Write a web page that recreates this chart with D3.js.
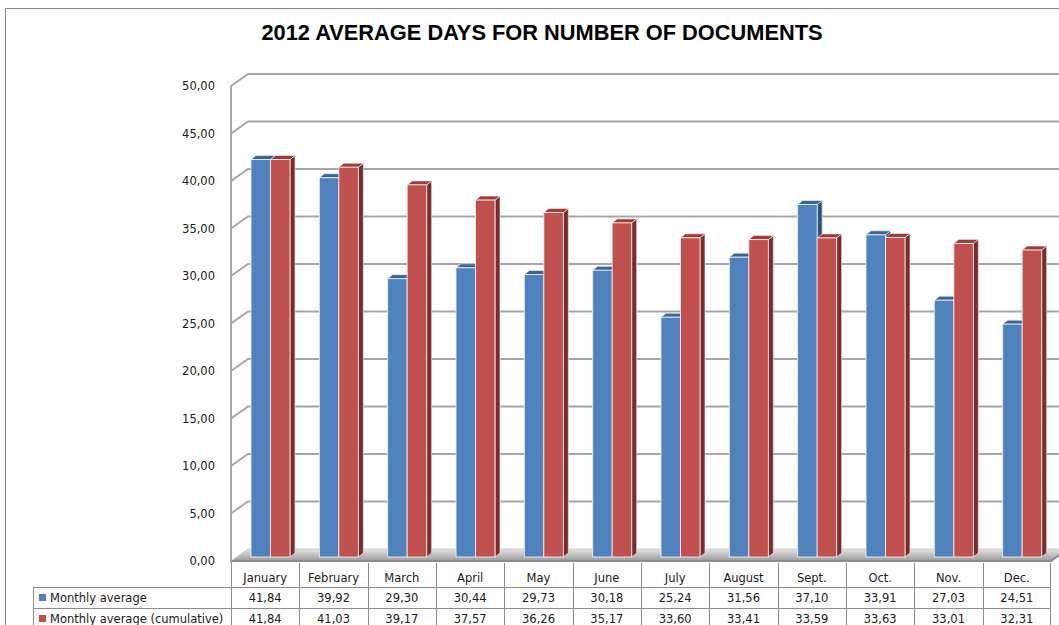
<!DOCTYPE html>
<html>
<head>
<meta charset="utf-8">
<script src="https://cdn.jsdelivr.net/npm/d3@7"></script>
<style>
  body { margin: 0; background: #fff; }
  svg { display: block; }
</style>
</head>
<body>
<script>
const months = ["January", "February", "March", "April", "May", "June", "July", "August", "Sept.", "Oct.", "Nov.", "Dec."];
const monthly = [41.84, 39.92, 29.30, 30.44, 29.73, 30.18, 25.24, 31.56, 37.10, 33.91, 27.03, 24.51];
const cumulative = [41.84, 41.03, 39.17, 37.57, 36.26, 35.17, 33.60, 33.41, 33.59, 33.63, 33.01, 32.31];
const seriesNames = ["Monthly average", "Monthly average (cumulative)"];
const yTicks = [0, 5, 10, 15, 20, 25, 30, 35, 40, 45, 50];

const width = 1059;
const height = 625;

// 3d offsets
const wallDx = 17, wallDy = -12;
const barDx = 5, barDy = -4;

const colors = [
  { front: "#4F81BD", top: "#3A6496", side: "#2E527D" },
  { front: "#C0504D", top: "#9C3B38", side: "#7A2C2A" }
];

const fmt = (v) => v.toFixed(2).replace(".", ",");

const svg = d3.select("body").append("svg")
  .attr("width", width)
  .attr("height", height);

// frame
svg.append("path")
  .attr("d", `M5.5,${height} V8.5 H${width}`)
  .attr("fill", "none")
  .attr("stroke", "#888")
  .attr("stroke-width", 1);

svg.append("text")
  .text("2012 AVERAGE DAYS FOR NUMBER OF DOCUMENTS")
  .attr("x", 542)
  .attr("y", 40)
  .attr("text-anchor", "middle")
  .attr("font-family", "'Liberation Sans', Arial, sans-serif")
  .attr("font-weight", "bold")
  .attr("font-size", "21.8px")
  .attr("fill", "#000");

const x = d3.scaleBand().domain(months).range([231, 1051]);
const yFront = d3.scaleLinear().domain([0, 50]).range([561, 86]);
const yBack = d3.scaleLinear().domain([0, 50]).range([561 + wallDy, 86 + wallDy]);
const yBar = d3.scaleLinear().domain([0, 50]).range([557, 82]);

const defs = svg.append("defs");
const floorGrad = defs.append("linearGradient")
  .attr("id", "floorGrad")
  .attr("x1", 0).attr("y1", 0).attr("x2", 0).attr("y2", 1);
floorGrad.append("stop").attr("offset", "0%").attr("stop-color", "#e4e4e4");
floorGrad.append("stop").attr("offset", "100%").attr("stop-color", "#9a9a9a");

// floor
const x0 = x.range()[0], x1 = x.range()[1];
svg.append("path")
  .attr("d", `M${x0},${yFront(0)} L${x0 + wallDx},${yBack(0)} L${x1 + wallDx},${yBack(0)} L${x1},${yFront(0)} Z`)
  .attr("fill", "url(#floorGrad)")
  .attr("stroke", "#c8c8c8")
  .attr("stroke-width", 0.8);
svg.append("path")
  .attr("d", `M${x0},${yFront(0)} L${x1},${yFront(0)} L${x1 + wallDx},${yBack(0)}`)
  .attr("fill", "none")
  .attr("stroke", "#8c8c8c")
  .attr("stroke-width", 2);

// gridlines (back wall + side wall)
const grid = svg.append("g").attr("fill", "none").attr("stroke", "#a6a6a6").attr("stroke-width", 2);
grid.selectAll("path.grid")
  .data(yTicks.filter((t) => t > 0))
  .enter()
  .append("path")
  .attr("class", "grid")
  .attr("d", (t) => `M${x0},${yFront(t)} L${x0 + wallDx},${yBack(t)} L${width + 5},${yBack(t)}`);

// front axis line
svg.append("line")
  .attr("x1", x0).attr("x2", x0)
  .attr("y1", yFront(50)).attr("y2", yFront(0) + 2)
  .attr("stroke", "#a6a6a6")
  .attr("stroke-width", 2);

// tick labels
svg.append("g")
  .selectAll("text")
  .data(yTicks)
  .enter()
  .append("text")
  .text((t) => fmt(t))
  .attr("x", 215)
  .attr("y", (t) => yFront(t) + 4)
  .attr("text-anchor", "end")
  .attr("font-family", "'DejaVu Sans', Verdana, sans-serif")
  .attr("font-size", "11.5px")
  .attr("fill", "#1a1a1a");

// bars
const barW = 19.5;
const barOffset = 20;
const bars = svg.append("g");
months.forEach((m, i) => {
  [monthly[i], cumulative[i]].forEach((v, s) => {
    const bx = x(m) + barOffset + s * barW;
    const by = yBar(v);
    const by0 = yBar(0);
    const c = colors[s];
    const g = bars.append("g");
    g.append("path")
      .attr("d", `M${bx + barW},${by} L${bx + barW + barDx},${by + barDy} L${bx + barW + barDx},${by0 + barDy} L${bx + barW},${by0} Z`)
      .attr("fill", c.side)
      .attr("stroke", "#e8e8e8")
      .attr("stroke-width", 0.7);
    g.append("path")
      .attr("d", `M${bx},${by} L${bx + barDx},${by + barDy} L${bx + barW + barDx},${by + barDy} L${bx + barW},${by} Z`)
      .attr("fill", c.top)
      .attr("stroke", "#e8e8e8")
      .attr("stroke-width", 0.7);
    g.append("rect")
      .attr("x", bx)
      .attr("y", by)
      .attr("width", barW)
      .attr("height", by0 - by)
      .attr("fill", c.front)
      .attr("stroke", "#ececec")
      .attr("stroke-width", 0.9);
  });
});

// data table
const tableTop = 563;
const rowY = [tableTop, 587, 608, 629];
const table = svg.append("g").attr("stroke", "#8c8c8c").attr("stroke-width", 1);
rowY.slice(1).forEach((ry) => {
  table.append("line")
    .attr("x1", 33).attr("x2", x1)
    .attr("y1", ry + 0.5).attr("y2", ry + 0.5);
});
months.forEach((m) => {
  table.append("line")
    .attr("x1", Math.round(x(m)) + 0.5).attr("x2", Math.round(x(m)) + 0.5)
    .attr("y1", tableTop).attr("y2", height);
});
table.append("line")
  .attr("x1", Math.round(x1) - 0.5).attr("x2", Math.round(x1) - 0.5)
  .attr("y1", tableTop).attr("y2", height);
table.append("line")
  .attr("x1", 33.5).attr("x2", 33.5)
  .attr("y1", rowY[1]).attr("y2", height);

const cellFont = (sel) => sel
  .attr("font-family", "'DejaVu Sans', Verdana, sans-serif")
  .attr("font-size", "11.5px")
  .attr("fill", "#1a1a1a");

svg.append("g").selectAll("text")
  .data(months)
  .enter()
  .append("text")
  .text((d) => d)
  .attr("x", (d) => x(d) + x.bandwidth() / 2)
  .attr("y", 582)
  .attr("text-anchor", "middle")
  .call(cellFont);

[monthly, cumulative].forEach((vals, s) => {
  const ty = rowY[s + 1] + 15;
  svg.append("rect")
    .attr("x", 39)
    .attr("y", ty - 8)
    .attr("width", 7)
    .attr("height", 7)
    .attr("fill", colors[s].front);
  svg.append("text")
    .text(seriesNames[s])
    .attr("x", 50)
    .attr("y", ty)
    .call(cellFont);
  svg.append("g").selectAll("text")
    .data(vals)
    .enter()
    .append("text")
    .text((v) => fmt(v))
    .attr("x", (v, i) => x(months[i]) + x.bandwidth() / 2)
    .attr("y", ty)
    .attr("text-anchor", "middle")
    .call(cellFont);
});
</script>
</body>
</html>
